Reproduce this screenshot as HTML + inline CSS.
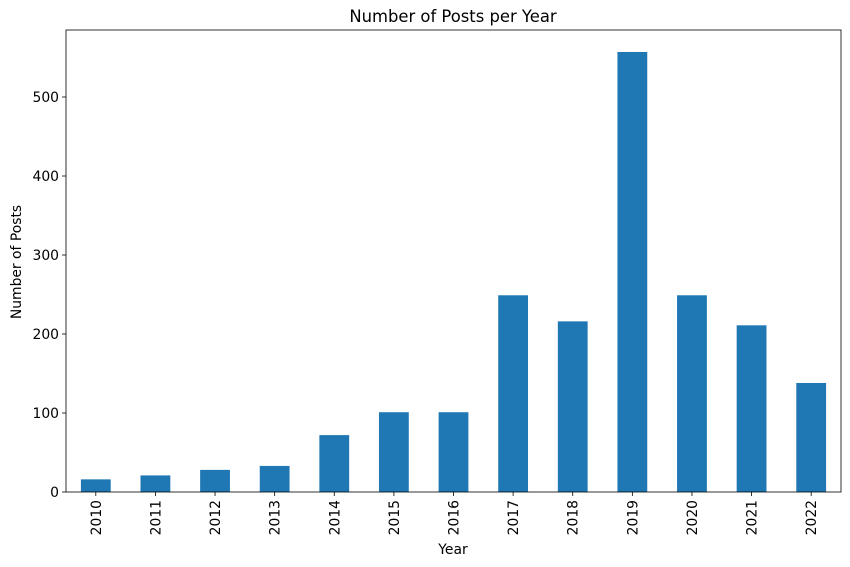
<!DOCTYPE html>
<html><head><meta charset="utf-8"><style>
body{margin:0;background:#fff;}
svg{display:block;font-family:"DejaVu Sans","Liberation Sans",sans-serif;}
</style></head><body>
<svg id="chart" width="850" height="567" viewBox="0 0 850 567" xmlns="http://www.w3.org/2000/svg">
<rect width="850" height="567" fill="#fff"/>
<text x="453" y="22" text-anchor="middle" font-size="16.4">Number of Posts per Year</text>
<g id="bars"></g>
<g id="axes"></g>
<text x="453" y="554" text-anchor="middle" font-size="13.9">Year</text>
<text transform="translate(21,262) rotate(-90)" text-anchor="middle" font-size="13.9">Number of Posts</text>
</svg>
<script>
const categories = ["2010","2011","2012","2013","2014","2015","2016","2017","2018","2019","2020","2021","2022"];
const postCounts = [16,21,28,33,72,101,101,249,216,557,249,211,138];
const yTicks = [0,100,200,300,400,500];

const L=66,R=841,T=30,B=492,YMAX=(B-T)/0.79;
const NS="http://www.w3.org/2000/svg";
const step=(R-L)/categories.length;
const xPos=i=>L+(i+0.5)*step;
const yPos=v=>B-(v/YMAX)*(B-T);
function mk(tag,attrs,parent){const e=document.createElementNS(NS,tag);for(const k in attrs)e.setAttribute(k,attrs[k]);parent.appendChild(e);return e;}
const bars=document.getElementById('bars'),axes=document.getElementById('axes');
categories.forEach((c,i)=>{
  const v=postCounts[i];
  const r=mk('rect',{x:xPos(i)-step*0.25,y:yPos(v),width:step*0.5,height:B-yPos(v),fill:'#1f77b4'},bars);
  
  
  const t=mk('line',{x1:xPos(i),x2:xPos(i),y1:B,y2:B+4,stroke:'#000','stroke-width':0.8},axes);
  
  
  const lb=mk('text',{transform:`translate(${xPos(i)+5},${B+8}) rotate(-90)`,'text-anchor':'end','font-size':13.9},axes);
  lb.textContent=c;
  
  
});
yTicks.forEach(v=>{
  const t=mk('line',{x1:L-4,x2:L,y1:yPos(v),y2:yPos(v),stroke:'#000','stroke-width':0.8},axes);
  
  
  const lb=mk('text',{x:L-7,y:yPos(v)+5,'text-anchor':'end','font-size':13.9},axes);
  lb.textContent=v;
  
  
});
const frame=mk('rect',{x:L,y:T,width:R-L,height:B-T,fill:'none',stroke:'#000','stroke-width':0.8},axes);


</script>
</body></html>
